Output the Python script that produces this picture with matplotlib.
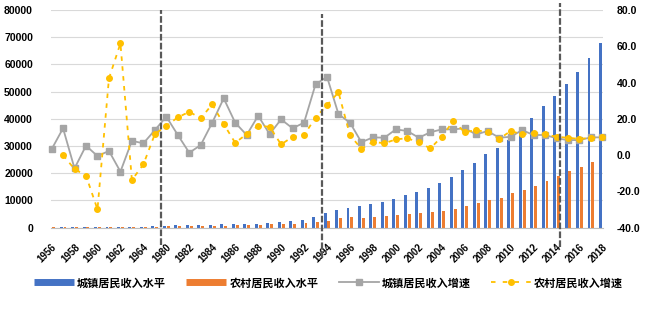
import numpy as np
import matplotlib as mpl
import matplotlib.pyplot as plt
from matplotlib.lines import Line2D

mpl.rcParams.update({
    "font.family": ["Liberation Sans", "Noto Sans CJK SC"],
    "font.weight": "bold",
    "axes.unicode_minus": False,
})

# years on the category axis (no data for 1966-1979)
years = list(range(1956, 1966)) + list(range(1980, 2019))

# income level, yuan
urban_income = [200, 230, 220, 240, 230, 240, 220, 250, 270, 450,
                730, 850, 850, 850, 900, 1220, 1250, 1460, 1500, 1830, 2070,
                2460, 2830, 3820, 5520, 6510, 7350, 8090, 8710, 9450, 10550, 12020, 13010,
                14480, 16540, 18750, 21210, 23670, 26980, 29300, 32240, 36300, 40440,
                44740, 48530, 52830, 57350, 62280, 67790]
rural_income = [80, 80, 80, 90, 90, 100, 150, 100, 100, 300,
                490, 490, 490, 730, 730, 730, 1100, 1100, 1100, 1460, 1460,
                1360, 1840, 2100, 2460, 3460, 3820, 3680, 4040, 4410, 4670, 5040, 5290,
                5770, 6030, 6880, 7980, 8970, 10180, 10920, 12650, 13860, 15440,
                17170, 19120, 20850, 22430, 24260, 26000]

# growth rate, %
urban_growth = [3.2, 14.8, -7.3, 5.2, -0.5, 2.3, -9.1, 7.9, 6.5, 13.8,
                21.2, 11.1, 1.3, 5.6, 17.9, 31.3, 17.9, 11.1, 21.7, 11.6, 19.7,
                14.8, 17.9, 39.0, 43.2, 22.6, 17.9, 7.1, 9.8, 9.6, 14.2, 13.3, 9.6,
                12.6, 14.2, 14.2, 14.8, 11.4, 13.3, 9.6, 10.1, 13.8, 11.1, 11.1,
                9.3, 8.3, 8.3, 9.8, 9.8]
rural_growth = [np.nan, 0.0, -7.7, -11.3, -29.9, 42.3, 61.6, -13.7, -5.1, 11.6,
                16.2, 20.8, 23.9, 20.3, 28.0, 17.1, 6.8, 11.6, 16.2, 15.6, 5.9,
                10.1, 11.1, 20.6, 27.6, 34.6, 11.1, 3.4, 7.4, 6.5, 8.7, 9.3, 7.1,
                3.7, 10.1, 18.8, 12.6, 13.8, 12.6, 8.9, 13.3, 11.5, 12.0, 11.5,
                10.1, 9.6, 8.9, 9.6, 9.8]

# period breaks, in category units
breaks = [9.5, 23.6, 44.3]

labels = ["城镇居民收入水平", "农村居民收入水平", "城镇居民收入增速", "农村居民收入增速"]
c_blue, c_orange, c_grey, c_yellow = "#4472C4", "#ED7D31", "#A5A5A5", "#FFC000"

x = np.arange(len(years))

fig = plt.figure(figsize=(6.57, 3.31), dpi=100)
ax = fig.add_axes([51 / 657, 1 - 227.7 / 331, 552 / 657, 217.7 / 331])
ax2 = ax.twinx()

ax.bar(x - 0.17, urban_income, width=0.26, color=c_blue, zorder=2)
ax.bar(x + 0.17, rural_income, width=0.26, color=c_orange, zorder=2)
ax.set_ylim(0, 80000)
ax.set_yticks(np.arange(0, 80001, 10000))
ax.yaxis.grid(True, color="#D9D9D9", lw=0.8, zorder=0)
ax.set_axisbelow(True)
ax.set_xlim(-0.05, 48.05)

ax.set_xticks(x[::2])
ax.set_xticklabels([str(y) for y in years[::2]], rotation=45, ha="right", va="top",
                   rotation_mode="anchor", fontsize=7)
ax.tick_params(axis="x", length=0, pad=10)
ax.tick_params(axis="y", length=0, pad=13, labelsize=7.5)

ax2.plot(x, urban_growth, color=c_grey, lw=1.3, marker="s", ms=4, clip_on=False, zorder=3)
ax2.plot(x, rural_growth, color=c_yellow, lw=1.3, ls=(0, (2.5, 3)), marker="o", ms=4,
         clip_on=False, zorder=4)
ax2.set_ylim(-40, 80)
ax2.set_yticks(np.arange(-40, 81, 20))
ax2.set_yticklabels([f"{v:.1f}" for v in np.arange(-40, 81, 20)])
ax2.tick_params(axis="y", length=0, pad=10, labelsize=7.5)

ymins = [-0.08, -0.14, -0.09]
ymaxs = [1.0, 0.98, 1.03]
for b, lo, hi in zip(breaks, ymins, ymaxs):
    ax2.axvline(b, ymin=lo, ymax=hi, color="#595959", lw=1.6, ls=(0, (3, 1)),
                clip_on=False, zorder=5)

for a in (ax, ax2):
    for s in ("top", "left", "right"):
        a.spines[s].set_visible(False)
    a.spines["bottom"].set_color("#BFBFBF")
ax2.spines["bottom"].set_visible(False)

handles = [
    Line2D([], [], color=c_blue, lw=5, solid_capstyle="butt"),
    Line2D([], [], color=c_orange, lw=5, solid_capstyle="butt"),
    Line2D([], [], color=c_grey, lw=1.3, marker="s", ms=4),
    Line2D([], [], color=c_yellow, lw=1.3, ls=(0, (2.5, 4)), marker="o", ms=4),
]
fig.legend(handles, labels, loc="center", bbox_to_anchor=(0.5, 1 - 283 / 331), ncol=4,
           frameon=False, fontsize=8, handlelength=3.6, handletextpad=0.3,
           columnspacing=1.8)

fig.savefig("out.png", dpi=100)
